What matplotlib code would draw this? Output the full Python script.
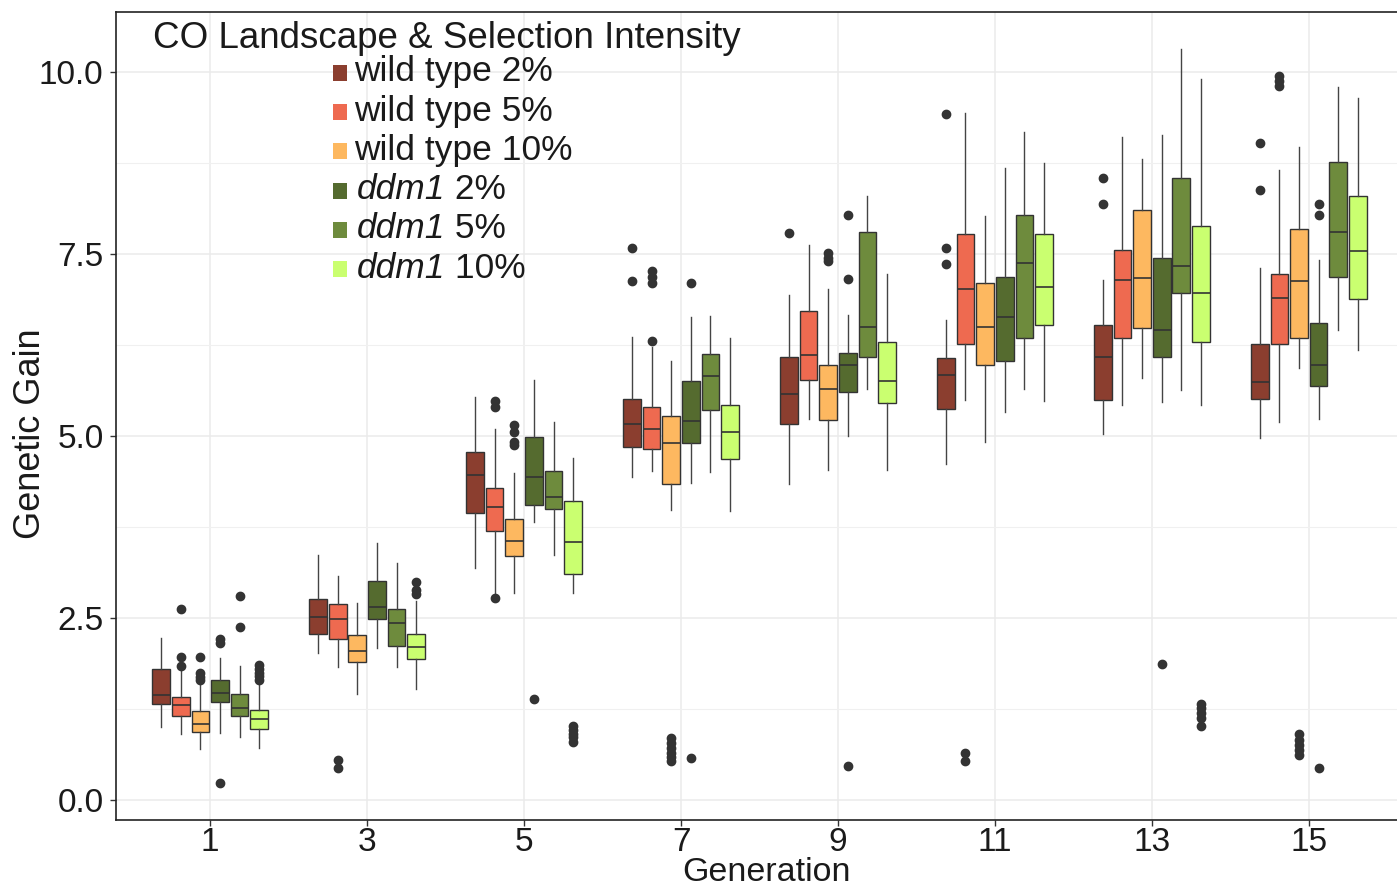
import matplotlib
matplotlib.use("Agg")
import matplotlib.pyplot as plt
from matplotlib.patches import Rectangle
from matplotlib.ticker import MultipleLocator

plt.rcParams['font.family'] = ['Liberation Sans', 'DejaVu Sans']

# ---------------- data ----------------
generations = ['1', '3', '5', '7', '9', '11', '13', '15']
# legend labels: (italic part, plain part)
series_names = [('', 'wild type 2%'), ('', 'wild type 5%'), ('', 'wild type 10%'),
                ('ddm1', ' 2%'), ('ddm1', ' 5%'), ('ddm1', ' 10%')]
series_colors = ['#8B3E2F', '#EE6A50', '#FDB860', '#556B2F', '#6E8B3D', '#CAFF70']

# each series: per generation (whisker low, Q1, median, Q3, whisker high)
wt2_lo  = [1.00, 2.02, 3.19, 4.43, 4.34, 4.62, 5.03, 4.97]
wt2_q1  = [1.32, 2.28, 3.94, 4.85, 5.16, 5.37, 5.50, 5.51]
wt2_med = [1.44, 2.51, 4.46, 5.17, 5.57, 5.84, 6.09, 5.74]
wt2_q3  = [1.80, 2.76, 4.78, 5.51, 6.08, 6.07, 6.53, 6.26]
wt2_hi  = [2.22, 3.37, 5.54, 6.36, 6.94, 6.59, 7.14, 7.31]
wt2_out = [[], [], [], [7.58, 7.13], [7.79], [9.42, 7.58, 7.36], [8.54, 8.18], [9.03, 8.38]]

wt5_lo  = [0.91, 1.83, 2.85, 4.52, 5.24, 5.49, 5.43, 5.19]
wt5_q1  = [1.15, 2.21, 3.69, 4.82, 5.77, 6.27, 6.34, 6.27]
wt5_med = [1.30, 2.48, 4.02, 5.09, 6.11, 7.02, 7.14, 6.89]
wt5_q3  = [1.42, 2.69, 4.28, 5.40, 6.72, 7.78, 7.56, 7.23]
wt5_hi  = [1.78, 3.08, 5.09, 6.22, 7.62, 9.43, 9.11, 8.66]
wt5_out = [[2.63, 1.96, 1.84], [0.55, 0.44], [5.48, 5.40, 2.77], [7.26, 7.19, 7.10, 6.31],
           [], [0.65, 0.54], [], [9.94, 9.88, 9.81]]

wt10_lo  = [0.70, 1.45, 2.85, 3.99, 4.53, 4.92, 5.80, 5.93]
wt10_q1  = [0.94, 1.90, 3.35, 4.34, 5.22, 5.97, 6.49, 6.34]
wt10_med = [1.05, 2.05, 3.56, 4.91, 5.65, 6.50, 7.17, 7.13]
wt10_q3  = [1.22, 2.26, 3.86, 5.28, 5.98, 7.10, 8.10, 7.85]
wt10_hi  = [1.60, 2.70, 4.49, 6.03, 7.02, 8.02, 8.80, 8.97]
wt10_out = [[1.97, 1.74, 1.69, 1.65], [], [5.15, 5.06, 4.92, 4.87],
            [0.85, 0.78, 0.72, 0.65, 0.59, 0.53], [7.51, 7.45, 7.40], [], [],
            [0.90, 0.83, 0.76, 0.69, 0.62]]

ddm2_lo  = [0.92, 2.09, 3.82, 4.35, 5.00, 5.33, 5.47, 5.23]
ddm2_q1  = [1.34, 2.48, 4.05, 4.90, 5.60, 6.03, 6.08, 5.68]
ddm2_med = [1.47, 2.65, 4.44, 5.20, 5.97, 6.63, 6.45, 5.97]
ddm2_q3  = [1.65, 3.01, 4.98, 5.76, 6.14, 7.18, 7.44, 6.55]
ddm2_hi  = [1.95, 3.53, 5.77, 6.63, 6.66, 8.68, 9.13, 7.42]
ddm2_out = [[2.21, 2.16, 0.23], [], [1.39], [7.10, 0.57], [8.03, 7.16, 0.46], [], [1.87],
            [8.18, 8.04, 0.44]]

ddm5_lo  = [0.87, 1.82, 3.36, 4.50, 5.64, 5.64, 5.63, 6.46]
ddm5_q1  = [1.15, 2.12, 4.00, 5.36, 6.08, 6.35, 6.96, 7.19]
ddm5_med = [1.27, 2.43, 4.16, 5.83, 6.50, 7.37, 7.34, 7.80]
ddm5_q3  = [1.46, 2.63, 4.52, 6.13, 7.80, 8.03, 8.54, 8.76]
ddm5_hi  = [1.84, 3.25, 5.19, 6.65, 8.29, 9.17, 10.31, 9.79]
ddm5_out = [[2.80, 2.37], [], [], [], [], [], [], []]

ddm10_lo  = [0.72, 1.53, 2.85, 3.97, 4.53, 5.48, 5.43, 6.18]
ddm10_q1  = [0.98, 1.94, 3.10, 4.68, 5.45, 6.52, 6.29, 6.88]
ddm10_med = [1.11, 2.10, 3.54, 5.05, 5.75, 7.05, 6.96, 7.54]
ddm10_q3  = [1.23, 2.28, 4.11, 5.42, 6.29, 7.78, 7.89, 8.30]
ddm10_hi  = [1.60, 2.73, 4.70, 6.35, 7.22, 8.75, 9.91, 9.64]
ddm10_out = [[1.85, 1.80, 1.75, 1.70, 1.65], [2.99, 2.88, 2.83],
             [1.01, 0.96, 0.91, 0.86, 0.80], [], [], [], [1.32, 1.26, 1.19, 1.12, 1.01], []]

series = [
    (wt2_lo, wt2_q1, wt2_med, wt2_q3, wt2_hi, wt2_out),
    (wt5_lo, wt5_q1, wt5_med, wt5_q3, wt5_hi, wt5_out),
    (wt10_lo, wt10_q1, wt10_med, wt10_q3, wt10_hi, wt10_out),
    (ddm2_lo, ddm2_q1, ddm2_med, ddm2_q3, ddm2_hi, ddm2_out),
    (ddm5_lo, ddm5_q1, ddm5_med, ddm5_q3, ddm5_hi, ddm5_out),
    (ddm10_lo, ddm10_q1, ddm10_med, ddm10_q3, ddm10_hi, ddm10_out),
]

# ---------------- figure ----------------
W, H = 1397, 888
fig = plt.figure(figsize=(W / 100, H / 100), dpi=100)
ax = fig.add_axes([116 / W, 1 - 820 / H, (1403 - 116) / W, (820 - 12) / H])

n_series = len(series)
dodge = 0.75 / n_series
box_w = dodge * 0.9
edge = '#333333'

for j, (lo, q1, med, q3, hi, out) in enumerate(series):
    stats = []
    for i in range(len(generations)):
        stats.append(dict(whislo=lo[i], q1=q1[i], med=med[i], q3=q3[i],
                          whishi=hi[i], fliers=out[i]))
    positions = [i + 1 + (j - (n_series - 1) / 2) * dodge for i in range(len(generations))]
    ax.bxp(stats, positions=positions, widths=box_w, patch_artist=True,
           showcaps=False, manage_ticks=False,
           boxprops=dict(facecolor=series_colors[j], edgecolor=edge, linewidth=1.0),
           medianprops=dict(color=edge, linewidth=1.2),
           whiskerprops=dict(color='#444444', linewidth=1.0),
           flierprops=dict(marker='o', markerfacecolor=edge, markeredgecolor=edge,
                           markersize=6, linestyle='none'),
           zorder=3)

ax.set_xlim(0.4, len(generations) + 0.6)
ax.set_ylim(-0.275, 10.824)
ax.set_xticks(range(1, len(generations) + 1))
ax.set_xticklabels(generations)
ax.yaxis.set_minor_locator(MultipleLocator(1.25))
ax.set_yticks([0, 2.5, 5, 7.5, 10])
ax.set_yticklabels(['0.0', '2.5', '5.0', '7.5', '10.0'])

ax.set_axisbelow(True)
ax.grid(which='major', color='#EBEBEB', linewidth=1.1)
ax.grid(which='minor', axis='y', color='#F0F0F0', linewidth=0.8)
ax.tick_params(which='major', length=4, width=1.0, color='#333333',
               labelsize=24, labelcolor='#1A1A1A', pad=5)
ax.tick_params(axis='x', which='major', pad=1)
ax.tick_params(which='minor', length=0)
for s in ax.spines.values():
    s.set_color('#222222')
    s.set_linewidth(1.2)

fig.text(30 / W, 1 - 434 / H, 'Genetic Gain', rotation=90, ha='center', va='center',
         fontsize=26, color='#1A1A1A')
fig.text(767 / W, 1 - 881 / H, 'Generation', ha='center', va='baseline',
         fontsize=24.5, color='#1A1A1A')

# legend (drawn manually to match layout)
fig.text(153 / W, 1 - 48 / H, 'CO Landscape & Selection Intensity', ha='left',
         va='baseline', fontsize=26.5, color='#1A1A1A')
for k, ((ital, plain), col) in enumerate(zip(series_names, series_colors)):
    base = 81.5 + 39.2 * k
    fig.patches.append(Rectangle((333 / W, 1 - (base - 0.5) / H), 14 / W, 16 / H,
                                 transform=fig.transFigure, facecolor=col,
                                 edgecolor='none'))
    if ital:
        t1 = fig.text(357 / W, 1 - base / H, ital, ha='left', va='baseline',
                      fontsize=25.5, fontstyle='italic', color='#1A1A1A')
        ax.annotate(plain, xy=(1, 0), xycoords=t1, ha='left', va='bottom',
                    fontsize=25.5, color='#1A1A1A', annotation_clip=False)
    else:
        fig.text(354 / W, 1 - base / H, plain, ha='left', va='baseline', fontsize=25.5,
                 color='#1A1A1A')

fig.savefig('out.png', dpi=100)
